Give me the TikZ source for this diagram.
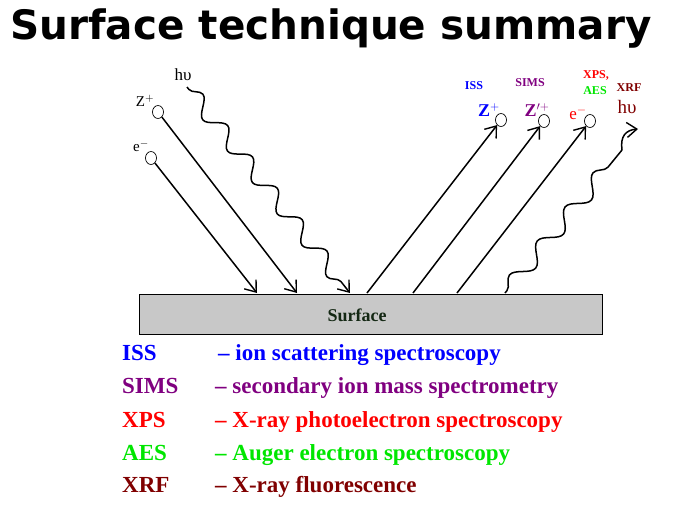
\documentclass[tikz,border=0pt]{standalone}
\usepackage{fontspec}
\setmainfont{Liberation Serif}
\newfontfamily\titlefont{DejaVu Sans}
\usetikzlibrary{arrows.meta,decorations.pathmorphing,shapes.geometric}
\definecolor{issblue}{RGB}{0,0,255}
\definecolor{simspurple}{RGB}{128,0,128}
\definecolor{xpsred}{RGB}{255,0,0}
\definecolor{aesgreen}{RGB}{0,230,0}
\definecolor{xrfred}{RGB}{128,0,0}
\definecolor{surfgray}{RGB}{200,200,200}
\definecolor{surftext}{RGB}{20,40,20}
\begin{document}
\begin{tikzpicture}[x=1pt,y=-1pt,
  particle/.style={draw,ellipse,minimum width=11,minimum height=13,inner sep=0,line width=0.7pt},
  ray/.style={line width=1.5pt,-{Straight Barb[length=10pt,width=15pt,line width=1.4pt]}},
  wave/.style={ray,decorate,decoration={snake,segment length=40,amplitude=8,pre length=3,post length=10}},
  leg/.style={anchor=base west,inner sep=0,font=\bfseries\fontsize{23}{27}\selectfont},
  small/.style={inner sep=0,font=\bfseries\fontsize{12}{14}\selectfont},
  plabel/.style={inner sep=0,font=\fontsize{15}{17}\selectfont}
]
\useasboundingbox (0,0) rectangle (680,520);
\node[anchor=base west,inner sep=0,font=\titlefont\bfseries\fontsize{40.5}{48}\selectfont] (title) at (10,39) {Surface technique summary};

% surface
\node[draw,fill=surfgray,minimum width=463,minimum height=40,anchor=north west,inner sep=0,line width=0.7pt] (surf) at (139,294) {};
\node[inner sep=0,text=surftext,font=\bfseries\fontsize{18}{20}\selectfont] (surflabel) at (357,315) {Surface};

% incoming
\node[particle] (ein) at (151,158) {};
\node[plabel] (einl) at (141,146) {e$^{-}$};
\node[particle] (zin) at (158,112) {};
\node[plabel] (zinl) at (145,101) {Z$^{+}$};
\node[plabel,font=\fontsize{17}{19}\selectfont] (hvin) at (183,75) {hυ};
\coordinate (etip) at (257,293);
\coordinate (ztip) at (297,293);
\coordinate (hstart) at (187,87);
\coordinate (htip) at (350,293);
\draw[ray] (ein) -- (etip);
\draw[ray] (zin) -- (ztip);
\draw[wave] (hstart) -- (htip);

% outgoing
\coordinate (s1) at (367,293);
\coordinate (s2) at (413,293);
\coordinate (s3) at (457,293);
\coordinate (s4) at (505,293);
\coordinate (hvmid) at (622,150);
\node[particle] (zout) at (501,120) {};
\node[particle] (zpout) at (544,121) {};
\node[particle] (eout) at (590,121) {};
\coordinate (hvtip) at (638,129);
\draw[ray] (s1) -- (zout);
\draw[ray] (s2) -- (zpout);
\draw[ray] (s3) -- (eout);
\draw[line width=1.5pt,decorate,decoration={snake,segment length=44,amplitude=8,pre length=3,post length=3}] (s4) -- (hvmid);
\draw[ray] (hvmid) .. controls (620,136) and (626,130) .. (hvtip);

\node[inner sep=0,text=issblue,font=\bfseries\fontsize{18}{20}\selectfont] (zoutl) at (489,110) {Z$^{+}$};
\node[inner sep=0,text=simspurple,font=\bfseries\fontsize{18}{20}\selectfont] (zpoutl) at (537,110) {Z$'^{+}$};
\node[inner sep=0,text=xpsred,font=\fontsize{17}{19}\selectfont] (eoutl) at (578,113) {e$^{-}$};
\node[inner sep=0,text=xrfred,font=\fontsize{19}{21}\selectfont] (hvoutl) at (627,107) {hυ};
\node[small,text=issblue] (isst) at (474,86) {ISS};
\node[small,text=simspurple] (simst) at (530,83) {SIMS};
\node[small,text=xpsred] (xpst) at (596,75) {XPS,};
\node[small,text=aesgreen] (aest) at (595,91) {AES};
\node[small,text=xrfred] (xrft) at (629,88) {XRF};

% legend
\node[leg,text=issblue] (l1a) at (122,360) {ISS};
\node[leg,text=issblue] (l1b) at (218,360) {– ion scattering spectroscopy};
\node[leg,text=simspurple] (l2a) at (122,393) {SIMS};
\node[leg,text=simspurple] (l2b) at (215,393) {– secondary ion mass spectrometry};
\node[leg,text=xpsred] (l3a) at (122,427) {XPS};
\node[leg,text=xpsred] (l3b) at (215,427) {– X-ray photoelectron spectroscopy};
\node[leg,text=aesgreen] (l4a) at (122,460) {AES};
\node[leg,text=aesgreen] (l4b) at (215,460) {– Auger electron spectroscopy};
\node[leg,text=xrfred] (l5a) at (122,492) {XRF};
\node[leg,text=xrfred] (l5b) at (215,492) {– X-ray fluorescence};
\end{tikzpicture}
\end{document}
